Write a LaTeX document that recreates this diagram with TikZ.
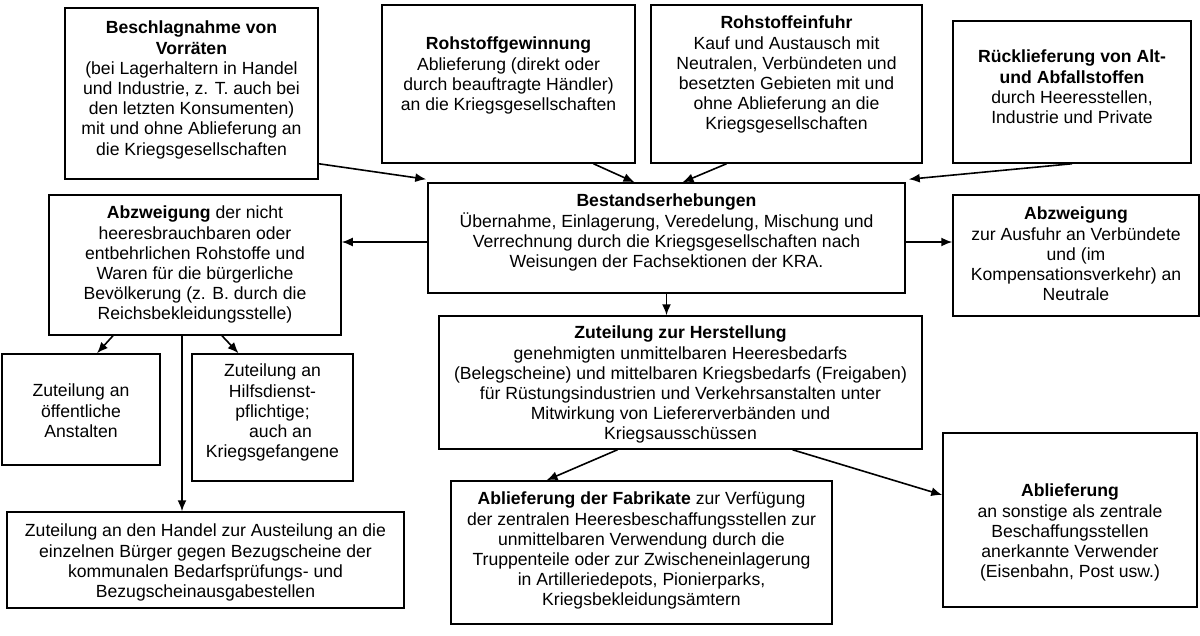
\documentclass[tikz,border=0pt]{standalone}
\usepackage{fontspec}
\setmainfont{Liberation Sans}
\usetikzlibrary{arrows.meta,calc}
\tikzset{
  bx/.style={draw=black, line width=1.5pt, inner sep=0pt, fill=none},
  tx/.style={anchor=north, inner sep=0pt, align=center, font=\fontsize{17.6}{20.2}\selectfont},
  ar/.style={line width=1.6pt, -{Latex[length=11pt,width=9pt]}}
}
\begin{document}
\begin{tikzpicture}[x=1pt,y=-1pt]
\useasboundingbox[fill=white] (0,0) rectangle (1200,635);
% boxes
\node[bx, minimum width=253pt, minimum height=171pt] (b1) at (191.5,93.5) {};
\node[bx, minimum width=253pt, minimum height=158pt] (b2) at (508.5,84) {};
\node[bx, minimum width=271pt, minimum height=158pt] (b3) at (786.5,84) {};
\node[bx, minimum width=238pt, minimum height=142pt] (b4) at (1072,92) {};
\node[bx, minimum width=477pt, minimum height=110pt] (best) at (666.5,238) {};
\node[bx, minimum width=483pt, minimum height=133pt] (zut) at (680.5,382.5) {};
\node[bx, minimum width=292pt, minimum height=140pt] (abzL) at (195,265) {};
\node[bx, minimum width=246pt, minimum height=121pt] (abzR) at (1076,255.5) {};
\node[bx, minimum width=158pt, minimum height=111pt] (oeff) at (81,409.5) {};
\node[bx, minimum width=161pt, minimum height=127pt] (hilf) at (272.5,417.5) {};
\node[bx, minimum width=397pt, minimum height=96pt] (hand) at (205.5,560) {};
\node[bx, minimum width=381pt, minimum height=143pt] (fabr) at (641.5,552.5) {};
\node[bx, minimum width=254pt, minimum height=174pt] (abl) at (1070,520) {};
% texts
\node[tx] (t1) at (191.5,21) {\textbf{Beschlagnahme von}\\\textbf{Vorräten}\\(bei Lagerhaltern in Handel\\und Industrie, z. T. auch bei\\den letzten Konsumenten)\\mit und ohne Ablieferung an\\die Kriegsgesellschaften};
\node[tx] (t2) at (508.5,37) {\textbf{Rohstoffgewinnung}\\Ablieferung (direkt oder\\durch beauftragte Händler)\\an die Kriegsgesellschaften};
\node[tx] (t3) at (786.5,16) {\textbf{Rohstoffeinfuhr}\\Kauf und Austausch mit\\Neutralen, Verbündeten und\\besetzten Gebieten mit und\\ohne Ablieferung an die\\Kriegsgesellschaften};
\node[tx] (t4) at (1072,50) {\textbf{Rücklieferung von Alt-}\\\textbf{und Abfallstoffen}\\durch Heeresstellen,\\Industrie und Private};
\node[tx] (tbest) at (666.5,194) {\textbf{Bestandserhebungen}\\Übernahme, Einlagerung, Veredelung, Mischung und\\Verrechnung durch die Kriegsgesellschaften nach\\Weisungen der Fachsektionen der KRA.};
\node[tx] (tzut) at (680.5,326) {\textbf{Zuteilung zur Herstellung}\\genehmigten unmittelbaren Heeresbedarfs\\(Belegscheine) und mittelbaren Kriegsbedarfs (Freigaben)\\für Rüstungsindustrien und Verkehrsanstalten unter\\Mitwirkung von Liefererverbänden und\\Kriegsausschüssen};
\node[tx] (tabzL) at (195,206) {\textbf{Abzweigung} der nicht\\heeresbrauchbaren oder\\entbehrlichen Rohstoffe und\\Waren für die bürgerliche\\Bevölkerung (z. B. durch die\\Reichsbekleidungsstelle)};
\node[tx] (tabzR) at (1076,207) {\textbf{Abzweigung}\\zur Ausfuhr an Verbündete\\und (im\\Kompensationsverkehr) an\\Neutrale};
\node[tx] (toeff) at (81,384) {Zuteilung an\\öffentliche\\Anstalten};
\node[tx] (thilf) at (272.5,364) {Zuteilung an\\Hilfsdienst-\\pflichtige;\\\hspace*{16pt}auch an\\Kriegsgefangene};
\node[tx] (thand) at (205.5,524) {Zuteilung an den Handel zur Austeilung an die\\einzelnen Bürger gegen Bezugscheine der\\kommunalen Bedarfsprüfungs- und\\Bezugscheinausgabestellen};
\node[tx] (tfabr) at (641.5,492) {\textbf{Ablieferung der Fabrikate} zur Verfügung\\der zentralen Heeresbeschaffungsstellen zur\\unmittelbaren Verwendung durch die\\Truppenteile oder zur Zwischeneinlagerung\\in Artilleriedepots, Pionierparks,\\Kriegsbekleidungsämtern};
\node[tx] (tabl) at (1070,484) {\textbf{Ablieferung}\\an sonstige als zentrale\\Beschaffungsstellen\\anerkannte Verwender\\(Eisenbahn, Post usw.)};
% connectors
\draw[ar] ([yshift=16pt]b1.south east) -- ([xshift=-1pt,yshift=3pt]best.north west);
\draw[ar] ([xshift=85pt]b2.south) -- ([xshift=-32pt]best.north);
\draw[ar] ([xshift=-60pt]b3.south) -- ([xshift=16pt]best.north);
\draw[ar] (b4.south) -- ([xshift=3pt,yshift=3pt]best.north east);
\draw[ar] ([yshift=-4pt]best.west) -- ([yshift=-4pt]best.west -| abzL.east);
\draw[ar] ([yshift=-4pt]best.east) -- ([yshift=-4pt]best.east -| abzR.west);
\draw[ar] (best.south) -- (best.south |- zut.north);
\draw[ar] ([xshift=-82pt]abzL.south) -- ([xshift=16pt]oeff.north);
\draw[ar] ([xshift=27pt]abzL.south) -- ([xshift=-34pt]hilf.north);
\coordinate (v) at ([xshift=-13pt]abzL.south);
\draw[ar] (v) -- (v |- hand.north);
\draw[ar] ([xshift=-63pt]zut.south) -- ([xshift=-95pt]fabr.north);
\draw[ar] ([xshift=112pt]zut.south) -- ([yshift=25pt]abl.west);
\end{tikzpicture}
\end{document}
